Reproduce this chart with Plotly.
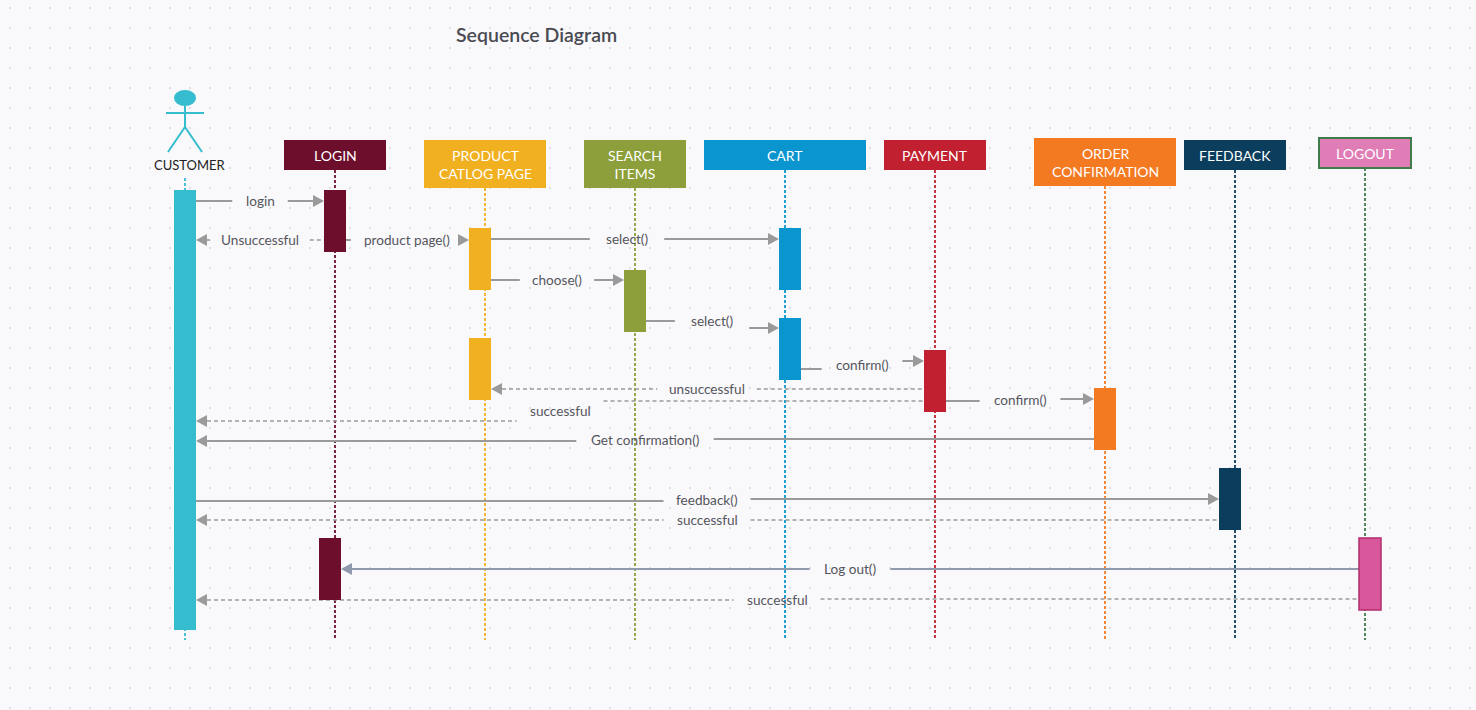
import plotly.graph_objects as go
import numpy as np

W, H = 1476, 710

# ---------------- data ----------------
title = "Sequence Diagram"
participants = ["CUSTOMER", "LOGIN", "PRODUCT<br>CATLOG PAGE", "SEARCH<br>ITEMS", "CART",
                "PAYMENT", "ORDER<br>CONFIRMATION", "FEEDBACK", "LOGOUT"]
# activation bars: owner participant index
act_owner = [0, 1, 2, 3, 4, 4, 2, 5, 6, 7, 1, 8]
# messages: source activation, target activation, label, return (dashed)?
msg_src = [0, 1, 1, 2, 2, 3, 5, 7, 7, 7, 8, 0, 9, 11, 11]
msg_dst = [1, 0, 2, 4, 3, 5, 7, 6, 0, 8, 0, 9, 0, 10, 0]
msg_label = ["login", "Unsuccessful", "product page()", "select()", "choose()", "select()",
             "confirm()", "unsuccessful", "successful", "confirm()", "Get confirmation()",
             "feedback()", "successful", "Log out()", "successful"]
msg_return = [False, True, False, False, False, False, False, True, True, False, False,
              False, True, False, True]

# ---------------- layout / style ----------------
life_x = [185, 335, 485, 635, 785, 935, 1105, 1235, 1365]
box_w = [0, 102, 122, 102, 162, 102, 142, 102, 92]
box_top = [0, 140, 140, 140, 140, 140, 138, 140, 138]
box_h = [0, 30, 48, 48, 30, 30, 48, 30, 30]
box_color = ["#35bccf", "#6d0e2d", "#f0b020", "#8c9f3a", "#0a95cf", "#c0202f",
             "#f47a22", "#0b3e5d", "#e07db6"]
life_color = ["#35bccf", "#6d0e2d", "#f0b020", "#8c9f3a", "#0a95cf", "#c0202f",
              "#f47a22", "#0b3e5d", "#3f7b4b"]
act_color = ["#35bccf", "#6d0e2d", "#f0b020", "#8c9f3a", "#0a95cf", "#0a95cf",
             "#f0b020", "#c0202f", "#f47a22", "#0b3e5d", "#6d0e2d", "#d9579b"]
act_cx = [185, 335, 480, 635, 790, 790, 480, 935, 1105, 1230, 330, 1370]
act_y = [(190, 630), (190, 252), (228, 290), (270, 332), (228, 290), (318, 380),
         (338, 400), (350, 412), (388, 450), (468, 530), (538, 600), (538, 610)]
ACT_W = 22
msg_y0 = [201, 240, 240, 239, 280, 321, 369, 389, 401, 401, 439, 501, 520, 569, 599]
msg_y1 = [201, 240, 240, 239, 280, 328, 361, 389, 421, 399, 441, 499, 520, 569, 600]
msg_lx = [260, 260, 407, 627, 557, 712, 862, 707, 560, 1020, 645, 707, 707, 850, 777]
msg_ly = [201, 240, 240, 239, 280, 321, 365, 389, 411, 400, 440, 500, 520, 569, 600]
LIFE_END = 640
BG = "#f9f9fb"
LINE = "#9a9a9a"
TXT = "#55555d"
FONT = "Lato"
LAB_SIZE = 13.6

shapes = []
annotations = []

# lifelines
for i, x in enumerate(life_x):
    y_start = 178 if i == 0 else box_top[i] + box_h[i]
    shapes.append(dict(type="line", x0=x, x1=x, y0=y_start, y1=LIFE_END, xref="x", yref="y",
                       line=dict(color=life_color[i], width=1.8, dash="3px,2px"), layer="above"))

# messages
for k in range(len(msg_label)):
    s, d = msg_src[k], msg_dst[k]
    if act_cx[d] > act_cx[s]:
        x0 = act_cx[s] + ACT_W / 2
        x1 = act_cx[d] - ACT_W / 2
        direction = 1
    else:
        x0 = act_cx[s] - ACT_W / 2
        x1 = act_cx[d] + ACT_W / 2
        direction = -1
    y0, y1 = msg_y0[k], msg_y1[k]
    lab = msg_label[k]
    tw = 6.3 * len(lab)
    gap_l = msg_lx[k] - tw / 2 - 12
    gap_r = msg_lx[k] + tw / 2 + 12
    color = "#8f9aad" if lab == "Log out()" else LINE
    if msg_return[k]:
        ln = dict(color=color, width=1.6, dash="4px,3px")
    else:
        ln = dict(color=color, width=2)
    base = x1 - direction * 11
    if direction == 1:
        segs = [(x0, gap_l, y0), (gap_r, base, y1)]
    else:
        segs = [(gap_r, x0, y0), (base, gap_l, y1)]
    for a, b, yy in segs:
        if b > a:
            shapes.append(dict(type="line", x0=a, x1=b, y0=yy, y1=yy, xref="x", yref="y",
                               line=ln, layer="above"))
    shapes.append(dict(type="path", xref="x", yref="y",
                       path=f"M {x1} {y1} L {base} {y1 - 6} L {base} {y1 + 6} Z",
                       fillcolor=color, line=dict(width=0), layer="above"))
    annotations.append(dict(x=msg_lx[k], y=msg_ly[k], xref="x", yref="y", text=lab,
                            showarrow=False, font=dict(family=FONT, size=LAB_SIZE, color=TXT)))

# activation bars
for j, (ya, yb) in enumerate(act_y):
    border = "#b22e6e" if act_owner[j] == 8 else act_color[j]
    shapes.append(dict(type="rect", x0=act_cx[j] - ACT_W / 2, x1=act_cx[j] + ACT_W / 2,
                       y0=ya, y1=yb, xref="x", yref="y", fillcolor=act_color[j],
                       line=dict(color=border, width=1.5 if act_owner[j] == 8 else 0),
                       layer="above"))

# header boxes
for i in range(1, len(participants)):
    bw = box_w[i]
    is_logout = i == 8
    shapes.append(dict(type="rect", x0=life_x[i] - bw / 2, x1=life_x[i] + bw / 2,
                       y0=box_top[i], y1=box_top[i] + box_h[i], xref="x", yref="y",
                       fillcolor=box_color[i],
                       line=dict(color="#3f7b4b" if is_logout else box_color[i],
                                 width=2 if is_logout else 0), layer="above"))
    annotations.append(dict(x=life_x[i], y=box_top[i] + box_h[i] / 2, xref="x", yref="y",
                            text=participants[i], showarrow=False,
                            font=dict(family=FONT, size=14, color="white")))

# actor figure
ac = box_color[0]
cx = life_x[0]
shapes.append(dict(type="circle", x0=cx - 11, x1=cx + 11, y0=90, y1=106, xref="x", yref="y",
                   fillcolor=ac, line=dict(width=0), layer="above"))
for (a, b, c, d) in [(cx - 19, 113, cx + 19, 113), (cx, 106, cx, 127),
                     (cx, 127, cx - 17, 152), (cx, 127, cx + 17, 152)]:
    shapes.append(dict(type="line", x0=a, y0=b, x1=c, y1=d, xref="x", yref="y",
                       line=dict(color=ac, width=2), layer="above"))
annotations.append(dict(x=190, y=165, xref="x", yref="y", text=participants[0], showarrow=False,
                        font=dict(family=FONT, size=13, color="#222222")))

# title
annotations.append(dict(x=536, y=34, xref="x", yref="y", text=title, showarrow=False,
                        font=dict(family=FONT, size=19.5, color="#4a4a52", weight=600)))

# background dot grid (decoration)
gx, gy = np.meshgrid(np.arange(10, W, 20), np.arange(8, H, 20))
fig = go.Figure(go.Scatter(x=gx.ravel(), y=gy.ravel(), mode="markers",
                           marker=dict(size=2.2, color="#d6d6dc"), hoverinfo="skip",
                           showlegend=False))

fig.update_layout(width=W, height=H, margin=dict(l=0, r=0, t=0, b=0),
                  paper_bgcolor=BG, plot_bgcolor=BG, shapes=shapes, annotations=annotations,
                  xaxis=dict(range=[0, W], visible=False, fixedrange=True),
                  yaxis=dict(range=[H, 0], visible=False, fixedrange=True),
                  showlegend=False)

fig.write_html("out.html", config={"displayModeBar": False},
               post_script="document.body.style.margin='0';")
